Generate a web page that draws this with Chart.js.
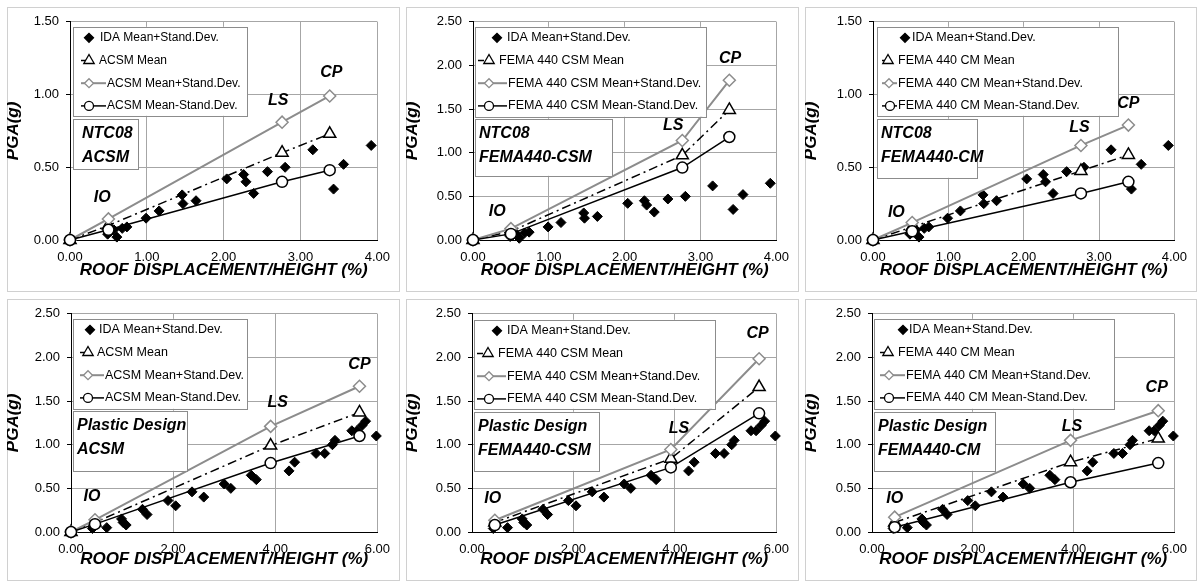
<!DOCTYPE html>
<html>
<head>
<meta charset="utf-8">
<script src="https://cdn.jsdelivr.net/npm/chart.js@4.4.0/dist/chart.umd.min.js"></script>
<style>
  body { margin: 0; background: #fff; width: 1200px; height: 583px; position: relative; overflow: hidden; }
  .frame { position: absolute; border: 1px solid #d0d0d0; box-sizing: border-box; }
  canvas { position: absolute; }
</style>
</head>
<body>
<script>
// IDA points (same structure in the three panels of each row)
const topIdaX = [0.49, 0.53, 0.57, 0.61, 0.68, 0.74, 0.99, 1.16, 1.46, 1.47, 1.64, 2.04, 2.26, 2.29, 2.39, 2.57, 2.80, 3.16, 3.43, 3.56, 3.92];
const topIdaY = [0.04, 0.06, 0.07, 0.02, 0.08, 0.09, 0.15, 0.20, 0.31, 0.25, 0.27, 0.42, 0.45, 0.40, 0.32, 0.47, 0.50, 0.62, 0.35, 0.52, 0.65];
const botIdaX = [0.42, 0.70, 0.99, 1.02, 1.08, 1.40, 1.49, 1.90, 2.05, 2.37, 2.60, 3.00, 3.13, 3.53, 3.63, 4.27, 4.38, 4.80, 4.97, 5.12, 5.17, 5.50, 5.60, 5.70, 5.77, 5.98];
const botIdaY = [0.04, 0.05, 0.15, 0.11, 0.08, 0.26, 0.20, 0.36, 0.30, 0.46, 0.40, 0.55, 0.50, 0.65, 0.60, 0.70, 0.80, 0.90, 0.90, 1.00, 1.05, 1.16, 1.16, 1.22, 1.27, 1.10];

// method curves: x = roof drift at IO, LS, CP
const ntcAcsmX = [0, 0.50, 2.76, 3.38];
const ntcAcsmMean = [0, 0.10, 0.60, 0.73];
const ntcAcsmPlus = [0, 0.145, 0.81, 0.99];
const ntcAcsmMinus = [0, 0.07, 0.40, 0.48];

const ntcCsmX = [0, 0.50, 2.76, 3.38];
const ntcCsmMean = [0, 0.10, 0.97, 1.49];
const ntcCsmPlus = [0, 0.13, 1.14, 1.83];
const ntcCsmMinus = [0, 0.07, 0.83, 1.18];

const ntcCmX = [0, 0.52, 2.76, 3.39];
const ntcCmMean = [0, 0.09, 0.475, 0.585];
const ntcCmPlus = [0, 0.12, 0.65, 0.79];
const ntcCmMinus = [0, 0.06, 0.32, 0.40];

const pdAcsmX = [0, 0.47, 3.91, 5.65];
const pdAcsmMean = [0, 0.11, 0.99, 1.37];
const pdAcsmPlus = [0, 0.14, 1.21, 1.67];
const pdAcsmMinus = [0, 0.09, 0.79, 1.10];

const pdCsmX = [0.45, 3.92, 5.66];
const pdCsmMean = [0.11, 0.84, 1.66];
const pdCsmPlus = [0.135, 0.945, 1.985];
const pdCsmMinus = [0.08, 0.74, 1.36];

const pdCmX = [0.45, 3.94, 5.68];
const pdCmMean = [0.11, 0.80, 1.07];
const pdCmPlus = [0.17, 1.05, 1.39];
const pdCmMinus = [0.055, 0.57, 0.79];

const limitStates = ["IO", "LS", "CP"];
const xTitle = "ROOF DISPLACEMENT/HEIGHT (%)";
const yTitle = "PGA(g)";

const FONT = "'Liberation Sans', Arial, sans-serif";
const GRAY = "#8c8c8c";

// legend: m = marker x per row, t = text x per row, l0 = sample line start (all relative to the box)
const panels = [
  { box: [7, 7, 393, 285], area: [70, 16, 382, 240], xMax: 4, xStep: 1, yMax: 1.5,
    xs: ntcAcsmX, mean: ntcAcsmMean, plus: ntcAcsmPlus, minus: ntcAcsmMinus, idaX: topIdaX, idaY: topIdaY,
    name: "ACSM", tag: ["NTC08", "ACSM"], markAt: [[0.42, 0.29], [2.71, 0.96], [3.40, 1.15]],
    legend: { dx: 3, dy: 5, w: 174, h: 89, fs: 12, m: [16, 16, 16, 16], t: [27, 26, 34, 34], l0: 8 },
    tagBox: { dx: 3, dy: 97, w: 65, h: 50, pad: 9 } },
  { box: [406, 7, 393, 285], area: [473, 16, 782, 240], xMax: 4, xStep: 1, yMax: 2.5,
    xs: ntcCsmX, mean: ntcCsmMean, plus: ntcCsmPlus, minus: ntcCsmMinus, idaX: topIdaX, idaY: topIdaY,
    name: "FEMA 440 CSM", tag: ["NTC08", "FEMA440-CSM"], markAt: [[0.32, 0.32], [2.64, 1.31], [3.39, 2.08]],
    legend: { dx: 2, dy: 5, w: 231, h: 90, fs: 12.5, m: [22, 14, 14, 14], t: [32, 24, 33, 33], l0: 3 },
    tagBox: { dx: 2, dy: 97, w: 137, h: 57, pad: 4 } },
  { box: [805, 7, 392, 285], area: [873, 16, 1182, 240], xMax: 4, xStep: 1, yMax: 1.5,
    xs: ntcCmX, mean: ntcCmMean, plus: ntcCmPlus, minus: ntcCmMinus, idaX: topIdaX, idaY: topIdaY,
    name: "FEMA 440 CM", tag: ["NTC08", "FEMA440-CM"], markAt: [[0.31, 0.19], [2.74, 0.77], [3.39, 0.94]],
    legend: { dx: 4, dy: 5, w: 241, h: 89, fs: 12.5, m: [28, 11, 12, 13], t: [35, 21, 21, 21], l0: 5 },
    tagBox: { dx: 4, dy: 97, w: 100, h: 59, pad: 4 } },
  { box: [7, 299, 393, 282], area: [71, 306, 382, 532], xMax: 6, xStep: 2, yMax: 2.5,
    xs: pdAcsmX, mean: pdAcsmMean, plus: pdAcsmPlus, minus: pdAcsmMinus, idaX: botIdaX, idaY: botIdaY,
    name: "ACSM", tag: ["Plastic Design", "ACSM"], markAt: [[0.41, 0.40], [4.05, 1.48], [5.65, 1.92]],
    legend: { dx: 2, dy: 5, w: 174, h: 90, fs: 12.5, m: [17, 15, 15, 15], t: [26, 24, 32, 32], l0: 7 },
    tagBox: { dx: 2, dy: 97, w: 114, h: 60, pad: 4 } },
  { box: [406, 299, 393, 282], area: [472, 306, 782, 532], xMax: 6, xStep: 2, yMax: 2.5,
    xs: pdCsmX, mean: pdCsmMean, plus: pdCsmPlus, minus: pdCsmMinus, idaX: botIdaX, idaY: botIdaY,
    name: "FEMA 440 CSM", tag: ["Plastic Design", "FEMA440-CSM"], markAt: [[0.41, 0.38], [4.08, 1.18], [5.63, 2.27]],
    legend: { dx: 2, dy: 6, w: 241, h: 89, fs: 12.5, m: [23, 14, 15, 15], t: [33, 24, 33, 33], l0: 3 },
    tagBox: { dx: 2, dy: 98, w: 125, h: 59, pad: 4 } },
  { box: [805, 299, 392, 282], area: [872, 306, 1182, 532], xMax: 6, xStep: 2, yMax: 2.5,
    xs: pdCmX, mean: pdCmMean, plus: pdCmPlus, minus: pdCmMinus, idaX: botIdaX, idaY: botIdaY,
    name: "FEMA 440 CM", tag: ["Plastic Design", "FEMA440-CM"], markAt: [[0.45, 0.38], [3.97, 1.21], [5.65, 1.66]],
    legend: { dx: 2, dy: 5, w: 240, h: 90, fs: 12.5, m: [29, 14, 15, 15], t: [35, 24, 32, 32], l0: 6 },
    tagBox: { dx: 2, dy: 98, w: 121, h: 59, pad: 4 } }
];

const pts = (xs, ys) => xs.map((x, i) => ({ x: x, y: ys[i] }));

function marker(ctx, style, x, y, r) {
  ctx.beginPath();
  if (style === "circle") {
    ctx.arc(x, y, r, 0, Math.PI * 2);
  } else if (style === "rectRot") {
    ctx.moveTo(x - r, y); ctx.lineTo(x, y - r); ctx.lineTo(x + r, y); ctx.lineTo(x, y + r); ctx.closePath();
  } else {
    ctx.moveTo(x, y - r); ctx.lineTo(x + r * 0.866, y + r * 0.5); ctx.lineTo(x - r * 0.866, y + r * 0.5); ctx.closePath();
  }
  ctx.fill();
  ctx.stroke();
}

// legend box, method tag and IO/LS/CP labels drawn on top of the plot
const decor = {
  id: "decor",
  afterDatasetsDraw(chart, args, o) {
    const { ctx, chartArea: a, scales } = chart;
    const p = o.panel;
    ctx.save();

    const L = p.legend;
    const lx = a.left + L.dx, ly = a.top + L.dy;
    ctx.fillStyle = "#fff";
    ctx.fillRect(lx, ly, L.w, L.h);
    ctx.strokeStyle = GRAY;
    ctx.lineWidth = 1;
    ctx.strokeRect(Math.round(lx) + 0.5, Math.round(ly) + 0.5, L.w, L.h);

    const rows = [
      { text: "IDA Mean+Stand.Dev.", style: "rectRot", r: 4.5, color: "#000", fill: "#000", dash: null },
      { text: p.name + " Mean", style: "triangle", r: 6, color: "#000", fill: "#fff", dash: [6, 3, 2, 3] },
      { text: p.name + " Mean+Stand.Dev.", style: "rectRot", r: 4.5, color: GRAY, fill: "#fff", dash: [] },
      { text: p.name + " Mean-Stand.Dev.", style: "circle", r: 4.5, color: "#000", fill: "#fff", dash: [] }
    ];
    ctx.font = L.fs + "px " + FONT;
    ctx.textBaseline = "middle";
    ctx.textAlign = "left";
    rows.forEach((row, i) => {
      const ry = ly + 11 + i * 22.7;
      const mx = lx + L.m[i];
      if (row.dash) {
        ctx.setLineDash(row.dash);
        ctx.strokeStyle = row.color;
        ctx.lineWidth = i === 2 ? 2 : 1.5;
        ctx.beginPath();
        ctx.moveTo(lx + L.l0, ry);
        ctx.lineTo(i === 1 ? mx : lx + L.t[i] - 1, ry);
        ctx.stroke();
        ctx.setLineDash([]);
      }
      ctx.fillStyle = row.fill;
      ctx.strokeStyle = row.color;
      ctx.lineWidth = 1.3;
      marker(ctx, row.style, mx, ry, row.r);
      ctx.fillStyle = "#000";
      ctx.fillText(row.text, lx + L.t[i], ry);
    });

    const T = p.tagBox;
    const tx = a.left + T.dx, ty = a.top + T.dy;
    ctx.fillStyle = "#fff";
    ctx.fillRect(tx, ty, T.w, T.h);
    ctx.strokeStyle = GRAY;
    ctx.lineWidth = 1;
    ctx.strokeRect(Math.round(tx) + 0.5, Math.round(ty) + 0.5, T.w, T.h);
    ctx.font = "italic bold 16px " + FONT;
    ctx.fillStyle = "#000";
    p.tag.forEach((line, i) => ctx.fillText(line, tx + T.pad, ty + 15 + i * 24));

    ctx.textAlign = "center";
    limitStates.forEach((ls, i) => {
      const [vx, vy] = p.markAt[i];
      ctx.fillText(ls, scales.x.getPixelForValue(vx), scales.y.getPixelForValue(vy));
    });
    ctx.restore();
  }
};

panels.forEach(p => {
  const [bx, by, bw, bh] = p.box;
  const [al, at, ar, ab] = p.area;

  const frame = document.createElement("div");
  frame.className = "frame";
  frame.style.left = bx + "px"; frame.style.top = by + "px";
  frame.style.width = bw + "px"; frame.style.height = bh + "px";
  document.body.appendChild(frame);

  const canvas = document.createElement("canvas");
  canvas.width = bw; canvas.height = bh;
  canvas.style.left = bx + "px"; canvas.style.top = by + "px";
  canvas.style.width = bw + "px"; canvas.style.height = bh + "px";
  document.body.appendChild(canvas);

  new Chart(canvas, {
    type: "scatter",
    data: {
      datasets: [
        { label: "IDA Mean+Stand.Dev.", data: pts(p.idaX, p.idaY), showLine: false, order: 4, clip: false,
          pointStyle: "rectRot", pointRadius: 5, pointBackgroundColor: "#000", pointBorderColor: "#000", pointBorderWidth: 1 },
        { label: p.name + " Mean", data: pts(p.xs, p.mean), showLine: true, order: 3, clip: false,
          borderColor: "#000", borderWidth: 1.5, borderDash: [9, 4, 2, 4],
          pointStyle: "triangle", pointRadius: 7, pointBackgroundColor: "#fff", pointBorderColor: "#000", pointBorderWidth: 1.5 },
        { label: p.name + " Mean+Stand.Dev.", data: pts(p.xs, p.plus), showLine: true, order: 2, clip: false,
          borderColor: GRAY, borderWidth: 2,
          pointStyle: "rectRot", pointRadius: 6, pointBackgroundColor: "#fff", pointBorderColor: GRAY, pointBorderWidth: 1.5 },
        { label: p.name + " Mean-Stand.Dev.", data: pts(p.xs, p.minus), showLine: true, order: 1, clip: false,
          borderColor: "#000", borderWidth: 1.5,
          pointStyle: "circle", pointRadius: 5.5, pointBackgroundColor: "#fff", pointBorderColor: "#000", pointBorderWidth: 1.5 }
      ]
    },
    options: {
      responsive: false,
      animation: false,
      devicePixelRatio: 1,
      layout: { padding: { top: at - by, right: bx + bw - ar, left: 0, bottom: 0 } },
      plugins: { legend: { display: false }, tooltip: { enabled: false }, decor: { panel: p } },
      scales: {
        x: {
          type: "linear", min: 0, max: p.xMax,
          ticks: { stepSize: p.xStep, padding: 10, color: "#000", font: { family: FONT, size: 13 }, callback: v => v.toFixed(2) },
          grid: { color: "#a6a6a6", drawTicks: false },
          border: { color: "#000", width: 1 },
          title: { display: true, text: xTitle, color: "#000", font: { family: FONT, size: 17, weight: "bold", style: "italic" }, padding: { top: 0, bottom: 11 } },
          afterFit: s => { s.height = by + bh - ab; }
        },
        y: {
          type: "linear", min: 0, max: p.yMax,
          ticks: { stepSize: 0.5, padding: 7, color: "#000", font: { family: FONT, size: 13 }, callback: v => v.toFixed(2) },
          grid: { color: "#a6a6a6", tickLength: 4, tickColor: "#000" },
          border: { color: "#000", width: 1 },
          title: { display: true, text: yTitle, color: "#000", font: { family: FONT, size: 17, weight: "bold", style: "italic" }, padding: { top: -4, bottom: 0 } },
          afterFit: s => { s.width = al - bx; }
        }
      }
    },
    plugins: [decor]
  });
});
</script>
</body>
</html>
